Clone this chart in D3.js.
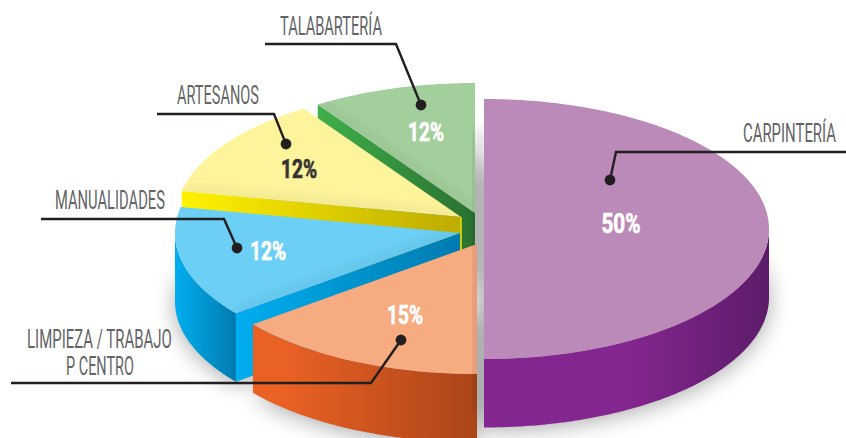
<!DOCTYPE html>
<html><head><meta charset="utf-8">
<script src="https://cdn.jsdelivr.net/npm/d3@7"></script>
<style>html,body{margin:0;background:#fff}svg{display:block}</style></head>
<body><svg id="c" width="846" height="438"></svg>
<script>
// DATA (clockwise from 12 o'clock)
const categories = ["CARPINTERÍA","LIMPIEZA / TRABAJO|P CENTRO","MANUALIDADES","ARTESANOS","TALABARTERÍA"];
const percentLabels = [50,15,12,12,12];
const drawnShares = [50,14.4,13.8,12.5,9.3]; // slice sweep as drawn in the picture

// STYLE / LAYOUT
const topFill  = ["#bb8ab8","#f7ab80","#6bcff6","#fdf49b","#a3cf9c"];
const sideFrom = ["#84268f","#ea6124","#00aeef","#fff200","#3fb04a"];
const sideTo   = ["#5c1c69","#ab4519","#007bb0","#bdab00","#2a7030"];
const hubs = [[484,229],[477,244],[460,233],[461,217],[475,213]];
const rx=285, ry=130, depth=68.5;
const pctPos = [[621,233,20,39,"#fff"],[405,324,18,36,"#fff"],[268,260,18,36,"#fff"],[299,178,18,36,"#333"],[426,141,18,36,"#fff"]];
const labelPos = [
 [[743,142,93]],
 [[27,348,145],[66,375,68]],
 [[55,209,110]],
 [[177,104,82]],
 [[280,35,102]]
];
const leaders = [
 [[846,152],[616,152],[610,180]],
 [[11,383],[371,383],[401,340]],
 [[41,219],[224,219],[237,248]],
 [[157,114],[274,114],[286,144]],
 [[265,44],[396,44],[421,105]]
];
const lineColor="#231f20", labelColor="#636466";

const svg=d3.select("#c");
const defs=svg.append("defs");
const px=d3.scaleLinear().domain([-1,1]).range([-rx,rx]);
const py=d3.scaleLinear().domain([-1,1]).range([-ry,ry]);
const pie=d3.pie().sort(null).value(d=>d).startAngle(0).endAngle(2*Math.PI);
const arcs=pie(drawnShares);
const line=d3.line();
const pt=(i,a,dz=0)=>[hubs[i][0]+px(Math.sin(a)),hubs[i][1]+py(-Math.cos(a))+dz];
const arcPts=(i,a0,a1,dz=0)=>{
  const n=Math.max(2,Math.ceil(Math.abs(a1-a0)/0.01));
  return d3.range(n+1).map(k=>pt(i,a0+(a1-a0)*k/n,dz));
};
const hub=(i,dz=0)=>[hubs[i][0],hubs[i][1]+dz];
const wedge=(i,dz=0)=>[hub(i,dz),...arcPts(i,arcs[i].startAngle,arcs[i].endAngle,dz)];

const blur=(id,s)=>defs.append("filter").attr("id",id).attr("x","-30%").attr("y","-30%").attr("width","160%").attr("height","160%")
  .append("feGaussianBlur").attr("stdDeviation",s);
blur("soft",11); blur("edge",7);

// ground shadow
const shadow=svg.append("g").attr("filter","url(#soft)").attr("opacity",0.33);
arcs.forEach((d,i)=>shadow.append("path").attr("d",line(wedge(i,depth+3))+"Z").attr("fill","#000"));

const hGrad=(id,x0,x1,c0,c1)=>{
  const g=defs.append("linearGradient").attr("id",id).attr("gradientUnits","userSpaceOnUse")
    .attr("x1",x0).attr("x2",x1).attr("y1",0).attr("y2",0);
  g.append("stop").attr("offset",0).attr("stop-color",c0);
  g.append("stop").attr("offset",1).attr("stop-color",c1);
};

// draw back to front
[4,3,2,1,0].forEach(i=>{
  const d=arcs[i], g=svg.append("g");
  if(i===0){
    g.append("rect").attr("x",hubs[0][0]-9).attr("y",hubs[0][1]-ry+30).attr("width",10).attr("height",2*ry+depth-45)
      .attr("fill","#000").attr("opacity",0.16).attr("filter","url(#edge)");
  }
  const s=d.startAngle, e=d.endAngle;
  if(s>Math.PI+0.01){
    const a=pt(i,s), b=hub(i);
    hGrad("face"+i,a[0],b[0],sideFrom[i],sideTo[i]);
    g.append("path").attr("fill","url(#face"+i+")")
      .attr("d",line([a,b,hub(i,depth),pt(i,s,depth)])+"Z");
  }
  const f0=Math.max(s,Math.PI/2), f1=Math.min(e,3*Math.PI/2);
  if(f1>f0){
    const a=arcPts(i,f0,f1), b=arcPts(i,f0,f1,depth).reverse();
    const xs=a.map(p=>p[0]);
    const lo=d3.min(xs), hi=d3.max(xs);
    if(i===0){hGrad("rim"+i,hi-140,hi,sideFrom[i],sideTo[i]);}
    else {hGrad("rim"+i,lo+(i===1?30:0),hi,sideFrom[i],sideTo[i]);}
    g.append("path").attr("fill","url(#rim"+i+")").attr("d",line([...a,...b])+"Z");
  }
  if(i===3){
    g.append("path").attr("d",line([hub(i),hub(i,depth)])).attr("stroke","#e6dc00").attr("stroke-width",1.6).attr("fill","none");
  }
  g.append("path").attr("fill",topFill[i]).attr("d",line(wedge(i))+"Z");
  const cid="clip"+i;
  defs.append("clipPath").attr("id",cid).append("path").attr("d",line(wedge(i))+"Z");
  const sh=svg.append("g").attr("clip-path","url(#"+cid+")");
  const edgePts = i===0 ? [hub(i,-ry),hub(i,ry)] : [hub(i),pt(i,s)];
  if(i!==1) sh.append("path").attr("d",line(edgePts)).attr("fill","none").attr("stroke","#000")
     .attr("stroke-width",i===0?9:5).attr("opacity",i===0?0.16:0.13).attr("filter","url(#edge)");
});

// squeezes a text horizontally so that it spans exactly w pixels
const fit=(sel,x,y,w)=>{
  sel.attr("text-anchor","start");
  const natural=sel.node().getComputedTextLength();
  sel.attr("transform","translate("+x+","+y+") scale("+(w/natural)+",1)");
};

// percent labels
percentLabels.forEach((v,i)=>{
  const [x,y,cap,w,col]=pctPos[i];
  const t=svg.append("text").text(v+"%")
    .attr("font-family","'Liberation Sans Narrow','Roboto',sans-serif").attr("font-weight",700)
    .attr("font-size",cap/0.70).attr("fill",col).attr("stroke",col).attr("stroke-width",0.7);
  fit(t,x-w/2,y,w);
});

// leaders
leaders.forEach(pts=>{
  svg.append("path").attr("d",line(pts)).attr("fill","none").attr("stroke",lineColor)
    .attr("stroke-width",2.4).attr("stroke-linejoin","miter");
  const end=pts[pts.length-1];
  svg.append("circle").attr("cx",end[0]).attr("cy",end[1]).attr("r",5.4).attr("fill",lineColor);
});

// category labels
categories.forEach((c,i)=>{
  c.split("|").forEach((tx,k)=>{
    const [x,y,w]=labelPos[i][k];
    const t=svg.append("text").text(tx)
      .attr("font-family","Roboto,'Liberation Sans',sans-serif").attr("font-weight",400)
      .attr("font-size",26).attr("fill",labelColor);
    fit(t,x,y,w);
  });
});
</script></body></html>
